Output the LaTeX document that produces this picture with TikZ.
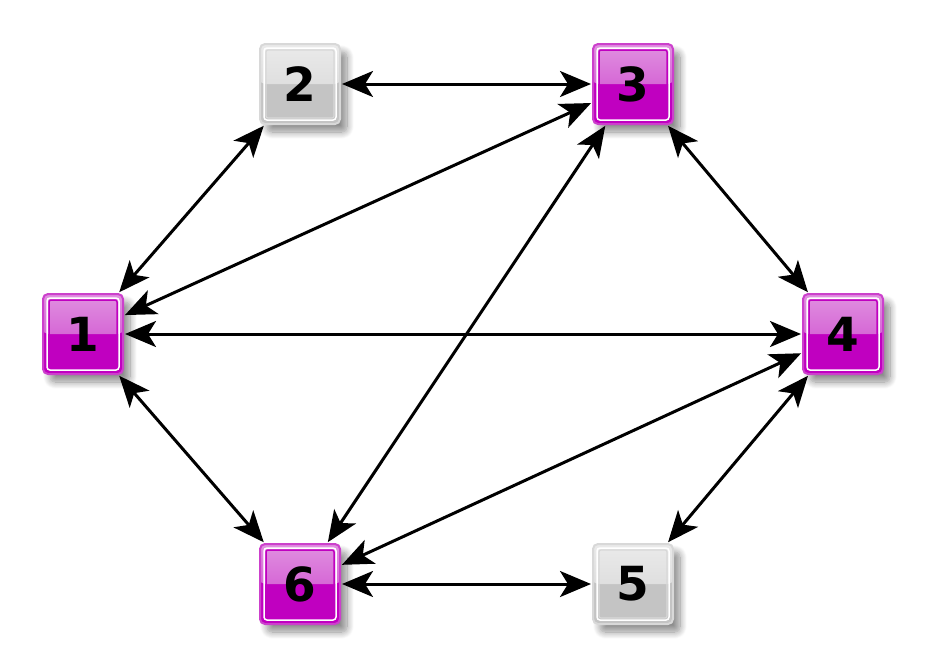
\documentclass[tikz,border=0pt]{standalone}
\usepackage{fontspec}
\setmainfont{DejaVu Sans}
\usetikzlibrary{arrows.meta,shadows.blur,calc}
\definecolor{mag}{HTML}{C000C0}
\definecolor{magtop}{HTML}{E090E0}
\definecolor{magmid}{HTML}{CC40CC}
\definecolor{gbot}{HTML}{C4C4C4}
\definecolor{gtop}{HTML}{EAEAEA}
\definecolor{gmid}{HTML}{D4D4D4}
\definecolor{gedge}{HTML}{D8D8D8}
\tikzset{
  box/.style={minimum width=80pt,minimum height=80pt,rounded corners=5pt,
    font=\fontsize{47}{47}\selectfont\bfseries,inner sep=0pt,
    blur shadow={shadow xshift=7pt,shadow yshift=-8pt,shadow blur radius=7pt,shadow blur steps=12,shadow opacity=45}},
  magbox/.style={box,fill=mag,draw=magmid,line width=2pt,
    path picture={
      \fill[top color=magtop,bottom color=magmid] (path picture bounding box.north west) rectangle (path picture bounding box.east);
      \draw[white,line width=1.5pt,rounded corners=3pt] ($(path picture bounding box.north west)+(4pt,-4pt)$) rectangle ($(path picture bounding box.south east)+(-4pt,4pt)$);
      \draw[mag,line width=1.5pt,rounded corners=2pt] ($(path picture bounding box.north west)+(6pt,-6pt)$) rectangle ($(path picture bounding box.south east)+(-6pt,6pt)$);
    }},
  graybox/.style={box,fill=gbot,draw=gedge,line width=2pt,
    path picture={
      \fill[top color=gtop,bottom color=gmid] (path picture bounding box.north west) rectangle (path picture bounding box.east);
      \draw[white,line width=1.5pt,rounded corners=3pt] ($(path picture bounding box.north west)+(4pt,-4pt)$) rectangle ($(path picture bounding box.south east)+(-4pt,4pt)$);
      \draw[gedge,line width=1.2pt,rounded corners=2pt] ($(path picture bounding box.north west)+(6pt,-6pt)$) rectangle ($(path picture bounding box.south east)+(-6pt,6pt)$);
    }},
  link/.style={line width=3pt,{Stealth[length=31pt,width=26pt,inset=8pt]}-{Stealth[length=31pt,width=26pt,inset=8pt]},shorten <=1pt,shorten >=1pt}
}
\begin{document}
\begin{tikzpicture}[x=1pt,y=-1pt]
\useasboundingbox (0,0) rectangle (928,667);
\node[magbox] (n1) at (83,334) {1};
\node[graybox] (n2) at (300,84) {2};
\node[magbox] (n3) at (633,84) {3};
\node[magbox] (n4) at (843,334) {4};
\node[graybox] (n5) at (633,584) {5};
\node[magbox] (n6) at (300,584) {6};
\draw[link] (n1) -- (n2);
\draw[link] (n1) -- (n3);
\draw[link] (n1) -- (n4);
\draw[link] (n1) -- (n6);
\draw[link] (n2) -- (n3);
\draw[link] (n3) -- (n4);
\draw[link] (n3) -- (n6);
\draw[link] (n4) -- (n5);
\draw[link] (n4) -- (n6);
\draw[link] (n6) -- (n5);
\end{tikzpicture}
\end{document}
